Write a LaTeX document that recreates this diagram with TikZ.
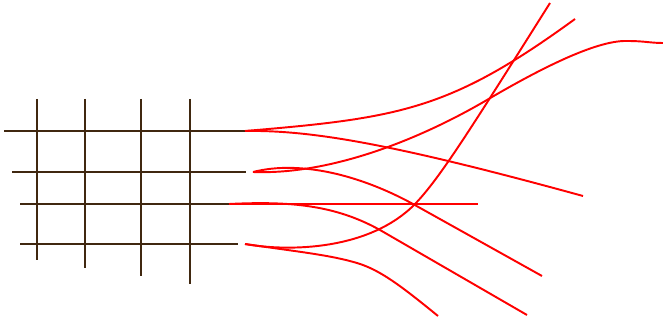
\documentclass[tikz,border=0pt]{standalone}
\usepackage{tikz}
\usetikzlibrary{positioning,calc}
\usepackage{xcolor}
\definecolor{meshbrown}{RGB}{64,40,16}

\begin{document}
\begin{tikzpicture}[
    x=0.02cm, y=-0.02cm,
    mesh/.style={draw=meshbrown, line width=1.1pt},
    strand/.style={draw=red, line width=1.1pt},
  ]
    \useasboundingbox (0,0) rectangle (663,320);

    % mesh, rows then columns
    \coordinate (r1w) at (4,131);   \coordinate (r1e) at (245,131);
    \coordinate (r2w) at (12,172);  \coordinate (r2e) at (246,172);
    \coordinate (r3w) at (20,204);  \coordinate (r3e) at (229,204);
    \coordinate (r4w) at (20,244);  \coordinate (r4e) at (238,244);
    \foreach \r in {1,...,4}
      \draw[mesh] (r\r w) -- (r\r e);
    \foreach \cx/\cb in {37/260, 85/268, 141/276, 190/284}
      \draw[mesh] (\cx,99) -- (\cx,\cb);

    % loose ends
    \coordinate (s1) at (245,131);
    \coordinate (s2) at (253,172);
    \coordinate (s3) at (229,204);
    \coordinate (s4) at (245,244);
    \coordinate (t1) at (575,19);
    \coordinate (t2) at (583,196);
    \coordinate (t3) at (663,43);
    \coordinate (t4) at (542,276);
    \coordinate (t5) at (478,204);
    \coordinate (t6) at (527,315);
    \coordinate (t7) at (550,3);
    \coordinate (t8) at (438,316);

    \draw[strand] (s1) .. controls (400,118) and (450,110) .. (t1);
    \draw[strand] (s1) .. controls (310,130) and (390,143) .. (t2);
    \draw[strand] (s2) .. controls (330,175) and (420,140) .. (492,97)
                       .. controls (535,72) and (595,40) .. (627,41)
                       .. controls (645,41) and (650,43) .. (t3);
    \draw[strand] (s2) .. controls (300,160) and (360,175) .. (413,204) -- (t4);
    \draw[strand] (s3) -- (t5);
    \draw[strand] (s3) .. controls (290,201) and (335,205) .. (380,230) -- (t6);
    \draw[strand] (s4) .. controls (290,252) and (370,250) .. (415,204)
                       .. controls (440,178) and (470,130) .. (t7);
    \draw[strand] (s4) .. controls (300,252) and (330,255) .. (357,263)
                       .. controls (380,270) and (400,285) .. (t8);
  \end{tikzpicture}
\end{document}
